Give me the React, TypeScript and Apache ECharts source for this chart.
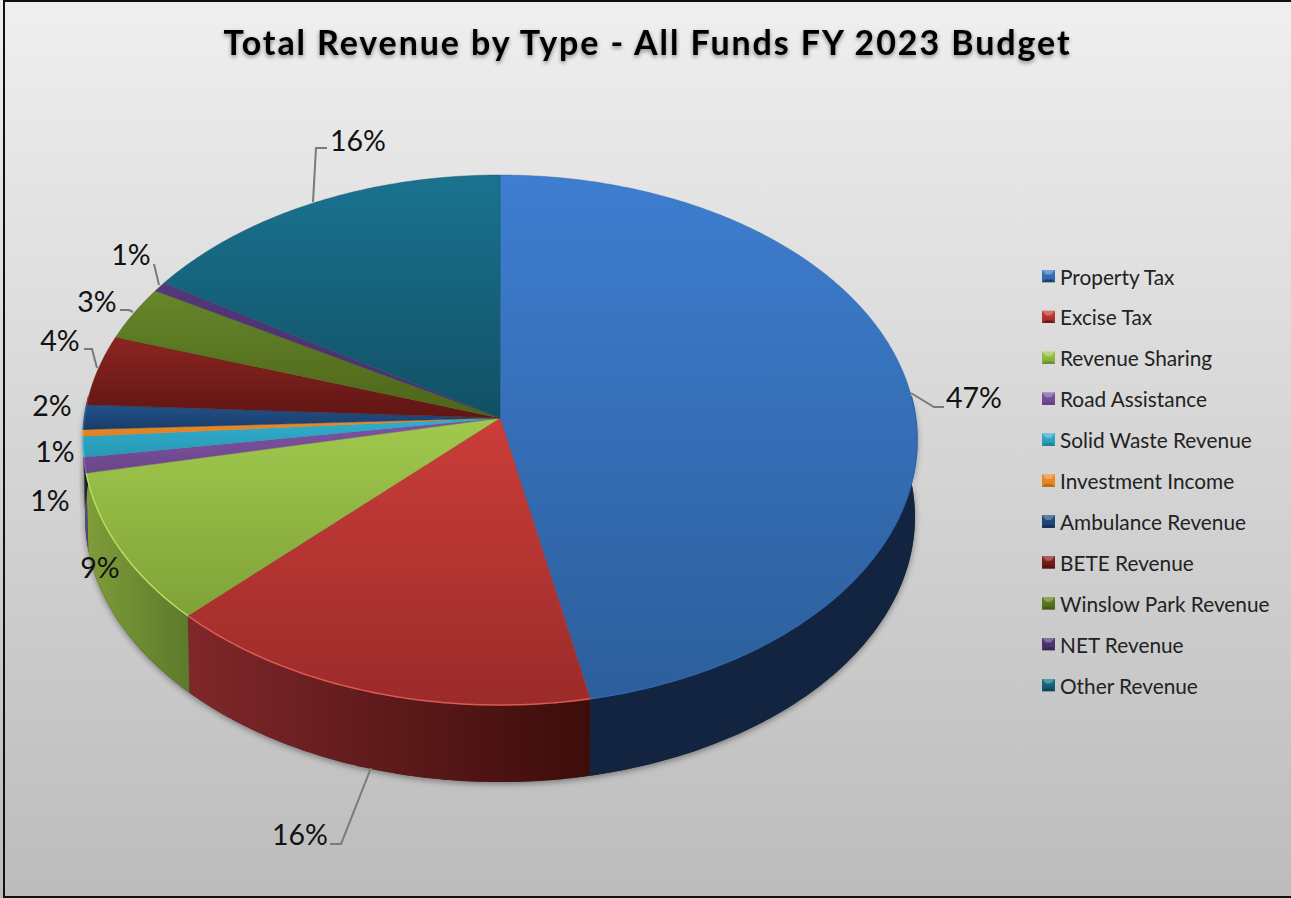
import React, { useEffect, useRef } from "react";
import * as echarts from "echarts";

const titleText = "Total Revenue by Type - All Funds FY 2023 Budget";
const categories = [
  "Property Tax", "Excise Tax", "Revenue Sharing", "Road Assistance", "Solid Waste Revenue",
  "Investment Income", "Ambulance Revenue", "BETE Revenue", "Winslow Park Revenue", "NET Revenue", "Other Revenue",
];
const percentValues = [46.8, 15.7, 9.2, 0.95, 1.25, 0.4, 1.5, 4.3, 3.3, 0.6, 16.0];

// styles, one entry per category
const topStart = ["#3e7ed0", "#cb3d39", "#a1c94d", "#8055a5", "#30b0d0", "#ec8d2a", "#215189", "#8c2521", "#66872a", "#53387a", "#1a7390"];
const topEnd = ["#2c5e9b", "#9b2b29", "#7fa238", "#6a4688", "#2798b4", "#e08020", "#1a3d69", "#5f1614", "#4c6419", "#46306a", "#115065"];
const sideStart = ["#12243f", "#80272a", "#7f9d38", "#5b3f86", "#1f7084", "#a05a10", "#10233f", "#4a100e", "#3c4f14", "#2c1f45", "#0c3644"];
const sideEnd = ["#12243f", "#3c0d0b", "#5c7a2b", "#5b3f86", "#1f7084", "#a05a10", "#10233f", "#4a100e", "#3c4f14", "#2c1f45", "#0c3644"];
const rimColor = ["#2f66a8", "#dc5a55", "#bcdc62", "#8a62b0", "#49bcd8", "#f09a40", "#2d5f9a", "#9a3430", "#76983a", "#5f4488", "#2a8098"];

// label placement: [text centre x, y, leader points]; null = no label
type LabelPlace = { x: number; y: number; leader?: number[][] } | null;
const labelPlaces: LabelPlace[] = [
  { x: 974, y: 397, leader: [[911, 393], [934, 407], [944, 407]] },
  { x: 300, y: 834, leader: [[371, 768], [341, 844], [330, 844]] },
  { x: 100, y: 567 },
  { x: 50, y: 500 },
  { x: 55, y: 451 },
  null,
  { x: 52, y: 405 },
  { x: 60, y: 340, leader: [[97, 368], [92, 349], [84, 349]] },
  { x: 97, y: 301, leader: [[133, 312], [129, 310], [120, 310]] },
  { x: 131, y: 254, leader: [[159, 285], [154, 264]] },
  { x: 358, y: 140, leader: [[313, 202], [316, 148], [327, 148]] },
];

// perspective pie geometry
const APEX_X = 500;
const APEX_Y = 418;
const SCALE_X = 415.6;
const SCALE_Y = 263.2;
const PERSP = 0.083;
const DEPTH = 77;
const BOTTOM_SHRINK = 0.995;

const project = (deg: number, drop = 0): number[] => {
  const t = (deg * Math.PI) / 180;
  const u = Math.sin(t);
  const v = -Math.cos(t);
  const w = 1 - PERSP * v;
  const sx = drop ? BOTTOM_SHRINK : 1;
  return [APEX_X + (SCALE_X * u * sx) / w, APEX_Y + (SCALE_Y * v) / w + drop];
};

const arcPoints = (a: number, b: number, drop = 0): number[][] => {
  const n = Math.max(2, Math.ceil(Math.abs(b - a) / 0.75));
  const out: number[][] = [];
  for (let i = 0; i <= n; i++) out.push(project(a + ((b - a) * i) / n, drop));
  return out;
};

const total = percentValues.reduce((s, v) => s + v, 0);
const startAngles = percentValues.map((_, i) =>
  (percentValues.slice(0, i).reduce((s, v) => s + v, 0) / total) * 360
);
const SIDE_FROM = (Math.acos(PERSP) * 180) / Math.PI;
const SIDE_TO = 360 - SIDE_FROM;

const labelFont = "Lato, Carlito, sans-serif";

const legendIcon = (i: number): string => {
  const svg = `<svg xmlns="http://www.w3.org/2000/svg" width="13" height="13"><defs><linearGradient id="g" x1="0" y1="0" x2="0" y2="1"><stop offset="0" stop-color="${topStart[i]}"/><stop offset="1" stop-color="${topEnd[i]}"/></linearGradient></defs><rect width="13" height="13" fill="url(#g)"/><polygon points="0,13 3,10 10,10 13,13" fill="${sideEnd[i]}" opacity="0.55"/><polygon points="0,0 13,0 9,5 4,5" fill="#fff" opacity="0.28"/></svg>`;
  return "image://data:image/svg+xml;charset=utf-8," + encodeURIComponent(svg);
};

const renderSlice = (index: number) => (_params: any, api: any) => {
  const value = api.value(0);
  const a0 = startAngles[index];
  const a1 = a0 + (value / total) * 360;
  const children: any[] = [];

  const s0 = Math.max(a0, SIDE_FROM);
  const s1 = Math.min(a1, SIDE_TO);
  if (s1 > s0) {
    const sidePts = [...arcPoints(s0, s1, 0), ...arcPoints(s1, s0, DEPTH)];
    children.push({
      type: "polygon",
      silent: true,
      z2: 1,
      shape: { points: sidePts },
      style: { fill: "#333", shadowBlur: 6, shadowColor: "rgba(0,0,0,0.4)", shadowOffsetX: 0, shadowOffsetY: 2 },
    });
    children.push({
      type: "polygon",
      silent: true,
      z2: 2,
      shape: { points: sidePts },
      style: {
        fill: new echarts.graphic.LinearGradient(0, 0, 1, 0, [
          { offset: 0, color: sideStart[index] },
          { offset: 1, color: sideEnd[index] },
        ]),
      },
    });
  }

  const mid = topEnd[index];
  children.push({
    type: "polygon",
    silent: true,
    z2: 5,
    shape: { points: [[APEX_X, APEX_Y], ...arcPoints(a0, a1)] },
    style: {
      fill: new echarts.graphic.LinearGradient(0, 0, 0, 1, [
        { offset: 0, color: topStart[index] },
        { offset: 1, color: mid },
      ]),
      stroke: mid,
      lineWidth: 0.4,
    },
  });
  if (s1 > s0) {
    children.push({
      type: "polyline",
      silent: true,
      z2: 6,
      shape: { points: arcPoints(s0, s1) },
      style: { fill: "none", stroke: rimColor[index], lineWidth: 1.5 },
    });
  }

  const place = labelPlaces[index];
  if (place) {
    if (place.leader) {
      children.push({
        type: "polyline",
        silent: true,
        z2: 7,
        shape: { points: place.leader },
        style: { fill: "none", stroke: "#7a7a7a", lineWidth: 2 },
      });
    }
    children.push({
      type: "text",
      silent: true,
      z2: 8,
      x: place.x,
      y: place.y,
      style: {
        text: `${Math.round(value)}%`,
        fontFamily: labelFont,
        fontSize: 28.5,
        fill: "#111",
        align: "center",
        verticalAlign: "middle",
      },
    });
  }
  return { type: "group", children };
};

export default function App() {
  const ref = useRef<HTMLDivElement>(null);
  useEffect(() => {
    const chart = echarts.init(ref.current!, undefined, { renderer: "svg" });
    chart.setOption({
      animation: false,
      backgroundColor: new echarts.graphic.LinearGradient(0, 0, 0, 1, [
        { offset: 0, color: "#efefef" },
        { offset: 1, color: "#bcbcbc" },
      ]),
      title: {
        text: titleText,
        left: 642.5,
        top: 19,
        textAlign: "center",
        textStyle: {
          fontFamily: labelFont,
          fontSize: 34,
          fontWeight: "bold",
          color: "#050505",
          textShadowColor: "rgba(0,0,0,0.45)",
          textShadowBlur: 4,
          textShadowOffsetY: 2,
        },
      },
      legend: {
        orient: "vertical",
        left: 1037,
        top: 260.5,
        itemWidth: 13,
        itemHeight: 13,
        itemGap: 19.9,
        selectedMode: false,
        data: categories.map((name, i) => ({ name, icon: legendIcon(i) })),
        textStyle: { fontFamily: labelFont, fontSize: 20.8, lineHeight: 20, color: "#222" },
      },
      graphic: [
        {
          type: "rect",
          silent: true,
          z: 100,
          shape: { x: 4, y: 1, width: 1300, height: 896 },
          style: { fill: "none", stroke: "#111", lineWidth: 2 },
        },
      ],
      series: categories.map((name, i) => ({
        type: "custom",
        name,
        coordinateSystem: "none",
        itemStyle: { color: topStart[i] },
        renderItem: renderSlice(i),
        data: [percentValues[i]],
        silent: true,
      })),
    });
    // ECharts has no letter spacing option; the reference title is tracked out
    ref.current!.querySelectorAll("text").forEach((el) => {
      if (el.textContent === titleText) el.setAttribute("letter-spacing", "1.9");
    });
    return () => chart.dispose();
  }, []);
  return <div ref={ref} style={{ position: "fixed", left: 0, top: 0, width: 1291, height: 898 }} />;
}
